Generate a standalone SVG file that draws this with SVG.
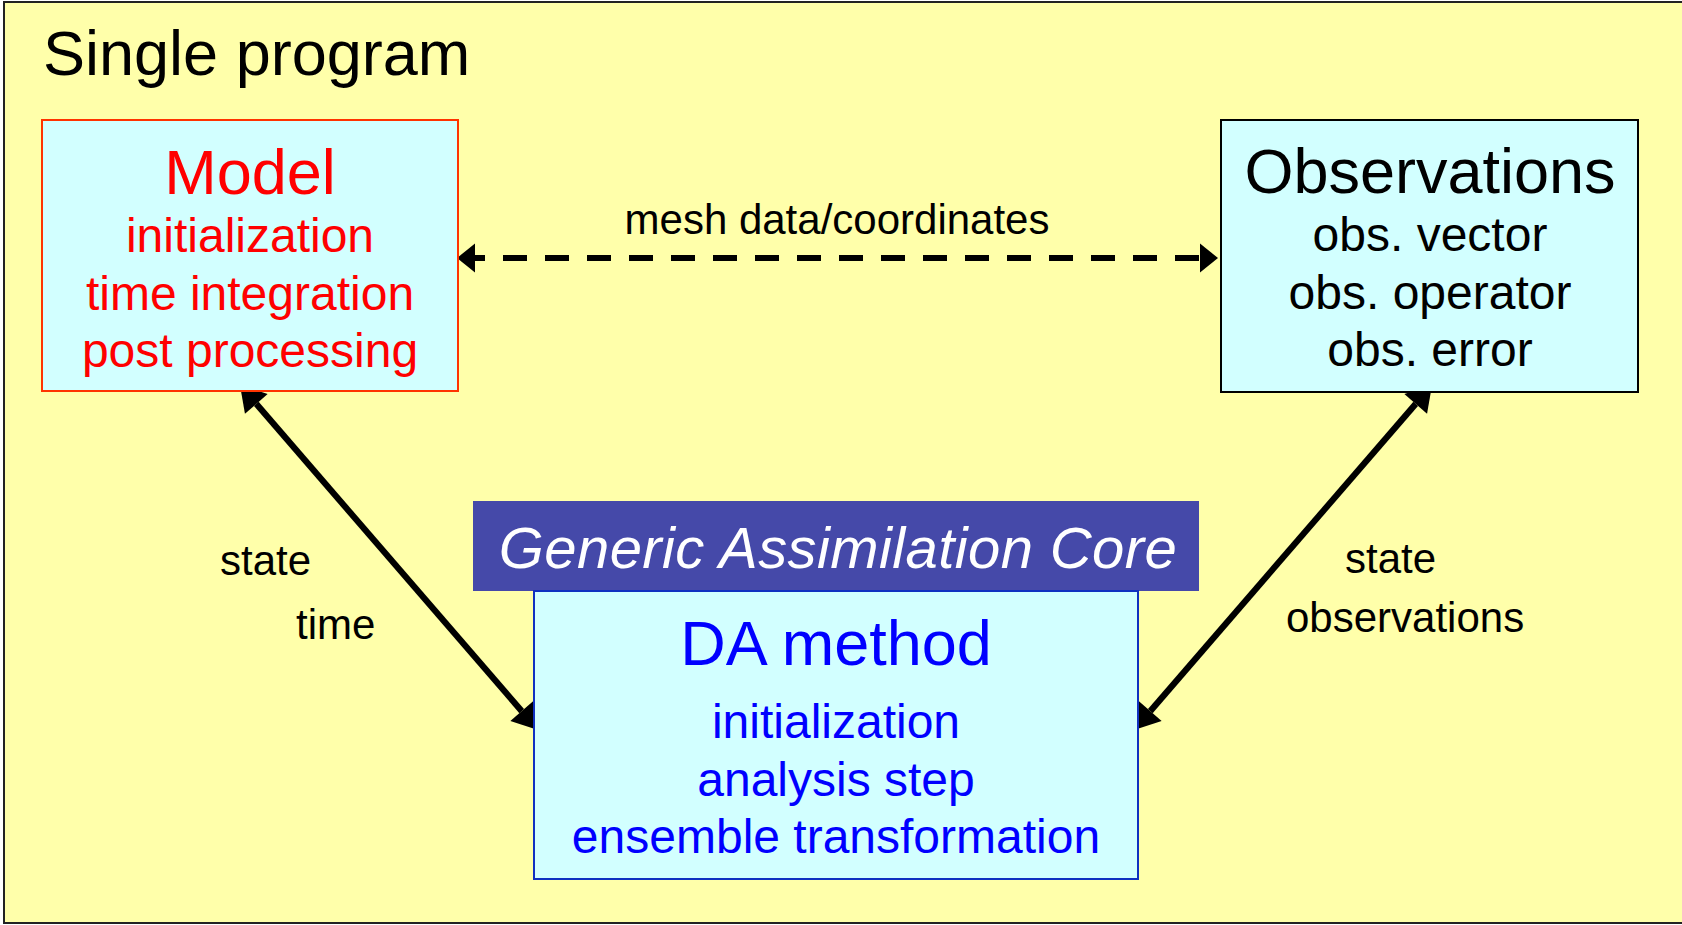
<svg xmlns="http://www.w3.org/2000/svg" width="1682" height="925" viewBox="0 0 1682 925">
<style>
text{font-family:"Liberation Sans",Arial,sans-serif}
.title{font-size:63px}
.sub{font-size:48px}
.lbl{font-size:42px;fill:#000}
.mid{text-anchor:middle}
.box{fill:#D2FFFF}
.red{fill:#FF0000}
.blue{fill:#0000FF}
.blk{fill:#000}
.conn{stroke:#000;fill:none}
</style>
<defs>
<marker id="headDash" markerUnits="userSpaceOnUse" orient="auto-start-reverse" markerWidth="20" markerHeight="32" refX="0" refY="0" overflow="visible">
<path d="M0,-14.5 L18,0 L0,14.5 Z" fill="#000"/>
</marker>
<marker id="headSolid" markerUnits="userSpaceOnUse" orient="auto-start-reverse" markerWidth="26" markerHeight="32" refX="0" refY="0" overflow="visible">
<path d="M0,-15 L25,0 L0,15 Z" fill="#000"/>
</marker>
</defs>
<g id="frame">
<rect x="4" y="2" width="1690" height="921" fill="#FFFFAA" stroke="#222" stroke-width="2"/>
<text x="43" y="75" class="title blk">Single program</text>
</g>
<g id="connectors">
<path class="conn" d="M475,258 L1200,258" stroke-width="6" stroke-dasharray="24 18" stroke-dashoffset="14" marker-start="url(#headDash)" marker-end="url(#headDash)"/>
<path class="conn" d="M256.3,403.9 L521.7,711.1" stroke-width="6.2" marker-start="url(#headSolid)" marker-end="url(#headSolid)"/>
<path class="conn" d="M1415.7,403.9 L1150.3,711.1" stroke-width="6.2" marker-start="url(#headSolid)" marker-end="url(#headSolid)"/>
<text x="837" y="234" class="lbl mid">mesh data/coordinates</text>
<text x="220" y="575" class="lbl">state</text>
<text x="296" y="639" class="lbl">time</text>
<text x="1345" y="573" class="lbl">state</text>
<text x="1286" y="632" class="lbl">observations</text>
</g>
<g id="model">
<rect x="42" y="120" width="416" height="271" class="box" stroke="#FF3300" stroke-width="2"/>
<text x="250" y="194" class="title mid red">Model</text>
<text x="250" y="252" class="sub mid red">initialization</text>
<text x="250" y="310" class="sub mid red">time integration</text>
<text x="250" y="367" class="sub mid red">post processing</text>
</g>
<g id="observations">
<rect x="1221" y="120" width="417" height="272" class="box" stroke="#000" stroke-width="2"/>
<text x="1430" y="193" class="title mid blk">Observations</text>
<text x="1430" y="251" class="sub mid blk">obs. vector</text>
<text x="1430" y="309" class="sub mid blk">obs. operator</text>
<text x="1430" y="366" class="sub mid blk">obs. error</text>
</g>
<g id="gac">
<rect x="473" y="501" width="726" height="90" fill="#4549A9"/>
<text x="838" y="568" class="mid" font-size="58" font-style="italic" letter-spacing="0.4" fill="#FFFFFF">Generic Assimilation Core</text>
</g>
<g id="da-method">
<rect x="534" y="591" width="604" height="288" class="box" stroke="#1030C0" stroke-width="2"/>
<text x="836" y="665" class="title mid blue">DA method</text>
<text x="836" y="738" class="sub mid blue">initialization</text>
<text x="836" y="796" class="sub mid blue">analysis step</text>
<text x="836" y="853" class="sub mid blue">ensemble transformation</text>
</g>
</svg>
